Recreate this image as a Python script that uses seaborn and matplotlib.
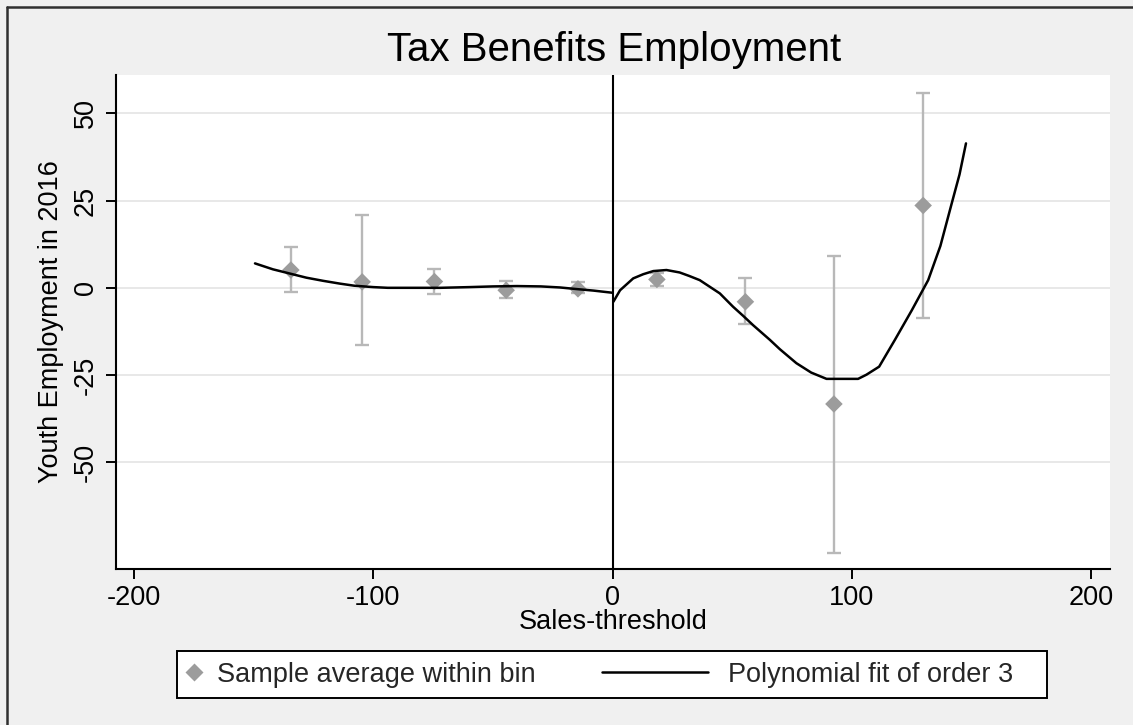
import matplotlib
matplotlib.use("Agg")
import matplotlib.pyplot as plt
from matplotlib.lines import Line2D
from matplotlib.patches import Rectangle
import seaborn as sns
import pandas as pd

# Bin averages with their confidence bounds
bin_x = [-134.5, -104.7, -74.5, -44.5, -14.5, 18.5, 55.5, 92.5, 129.8]
bin_mean = [5.1, 1.7, 1.8, -0.7, -0.3, 2.4, -4.0, -33.3, 23.6]
bin_low = [-1.3, -16.5, -1.9, -2.9, -1.6, 0.5, -10.5, -75.9, -8.6]
bin_high = [11.7, 20.9, 5.3, 2.0, 1.7, 4.3, 2.7, 9.1, 55.8]

# Fitted curve, left of the threshold
fit_left_x = [-149.5, -142.0, -135.0, -128.0, -121.0, -114.0, -108.0, -100.0,
              -94.0, -85.0, -72.0, -60.0, -50.0, -40.0, -30.0, -22.0, -16.0,
              -8.0, -0.3]
fit_left_y = [7.0, 5.3, 4.1, 2.9, 2.0, 1.2, 0.6, 0.2, 0.0, 0.0, 0.0, 0.2, 0.4,
              0.5, 0.4, 0.1, -0.3, -0.8, -1.4]

# Fitted curve, right of the threshold
fit_right_x = [0.3, 3.1, 8.6, 12.8, 17.0, 22.5, 28.0, 32.0, 36.4, 40.6, 44.8,
               50.3, 54.5, 58.7, 65.7, 69.9, 76.8, 83.0, 89.4, 102.6, 106.1,
               111.4, 118.0, 125.0, 131.9, 137.0, 141.7, 145.0, 147.7]
fit_right_y = [-4.0, -0.7, 2.7, 3.9, 4.8, 5.1, 4.4, 3.4, 2.2, 0.3, -1.6, -5.4,
               -8.0, -10.7, -14.9, -17.6, -21.6, -24.3, -26.1, -26.1, -24.9,
               -22.6, -14.9, -6.5, 2.2, 12.0, 24.1, 32.5, 41.4]

x_ticks = [-200, -100, 0, 100, 200]
y_ticks = [-50, -25, 0, 25, 50]

sns.set_theme(style="white")
plt.rcParams["font.family"] = ["Liberation Sans", "DejaVu Sans"]

W, H = 1133, 725
fig = plt.figure(figsize=(W / 100, H / 100), dpi=100, facecolor="#f0f0f0")
ax = fig.add_axes([116 / W, 1 - 569 / H, (1110 - 116) / W, (569 - 75) / H])
ax.set_facecolor("white")

bins = pd.DataFrame({"x": bin_x, "y": bin_mean})
left = pd.DataFrame({"x": fit_left_x, "y": fit_left_y})
right = pd.DataFrame({"x": fit_right_x, "y": fit_right_y})

for yt in y_ticks:
    ax.axhline(yt, color="#e6e6e6", lw=1.3, zorder=0)

err_lo = [m - lo for m, lo in zip(bin_mean, bin_low)]
err_hi = [hi - m for m, hi in zip(bin_mean, bin_high)]
ax.errorbar(bin_x, bin_mean, yerr=[err_lo, err_hi], fmt="none",
            ecolor="#b8b8b8", elinewidth=1.7, capsize=5, capthick=1.7, zorder=2)
sns.scatterplot(data=bins, x="x", y="y", marker="D", s=80, color="#9c9c9c",
                edgecolor="none", ax=ax, zorder=3, legend=False)
sns.lineplot(data=left, x="x", y="y", color="black", lw=1.8, ax=ax,
             sort=False, estimator=None, zorder=4)
sns.lineplot(data=right, x="x", y="y", color="black", lw=1.8, ax=ax,
             sort=False, estimator=None, zorder=4)
ax.axvline(0, color="black", lw=1.5, zorder=5)

ax.set_xlim(-207.6, 207.9)
ax.set_ylim(-80.6, 61.0)
ax.set_xticks(x_ticks)
ax.set_yticks(y_ticks)
ax.set_xticklabels([str(v) for v in x_ticks])
ax.set_yticklabels([str(v) for v in y_ticks])

for side in ["top", "right"]:
    ax.spines[side].set_visible(False)
for side in ["left", "bottom"]:
    ax.spines[side].set_color("black")
    ax.spines[side].set_linewidth(1.5)

ax.tick_params(axis="both", which="major", direction="out", length=7.5,
               width=1.4, color="black", labelsize=19.5, labelcolor="black",
               left=True, bottom=True)
ax.tick_params(axis="x", pad=4)
ax.tick_params(axis="y", pad=5, labelrotation=90)
for lbl in ax.get_yticklabels():
    lbl.set_va("center")

ax.set_xlabel("Sales-threshold", fontsize=19.5, color="black")
ax.set_ylabel("Youth Employment in 2016", fontsize=19.5, color="black")
ax.xaxis.set_label_coords(0.5, -0.08)
ax.yaxis.set_label_coords(-0.052, 0.5)

fig.text(614 / W, 1 - 50 / H, "Tax Benefits Employment", fontsize=29,
         ha="center", va="center", color="black")

# Legend frame and entries
fig.patches.append(Rectangle((177 / W, 1 - 698 / H), (1047 - 177) / W, 47 / H,
                             transform=fig.transFigure, facecolor="white",
                             edgecolor="black", lw=1.4, zorder=1))
h1 = Line2D([], [], ls="none", marker="D", markersize=9, color="#9c9c9c",
            markeredgecolor="none")
h2 = Line2D([], [], color="black", lw=1.8)
leg_y = 1 - 674.5 / H
fig.legend([h1], ["Sample average within bin"], loc="center left",
           bbox_to_anchor=(187 / W, leg_y), frameon=False, fontsize=19.5,
           handlelength=0.55, handletextpad=0.55, borderpad=0, borderaxespad=0)
fig.legend([h2], ["Polynomial fit of order 3"], loc="center left",
           bbox_to_anchor=(602 / W, leg_y), frameon=False, fontsize=19.5,
           handlelength=3.9, handletextpad=0.75, borderpad=0, borderaxespad=0)

# Outer frame edges
fig.add_artist(Line2D([7 / W, 1], [1 - 7 / H, 1 - 7 / H],
                      transform=fig.transFigure, color="#303030", lw=1.8))
fig.add_artist(Line2D([7 / W, 7 / W], [0, 1 - 7 / H],
                      transform=fig.transFigure, color="#303030", lw=1.8))

fig.savefig("out.png", dpi=100, facecolor=fig.get_facecolor())
